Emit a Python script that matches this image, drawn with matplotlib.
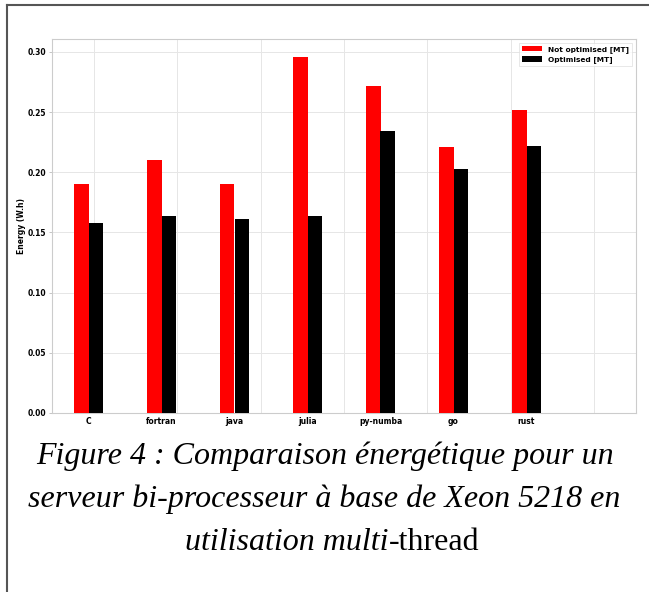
import matplotlib
matplotlib.use("Agg")
import matplotlib.pyplot as plt
from matplotlib.lines import Line2D
import numpy as np

categories = ["C", "fortran", "java", "julia", "py-numba", "go", "rust"]
not_optimised = [0.190, 0.210, 0.190, 0.296, 0.272, 0.221, 0.252]
optimised = [0.158, 0.164, 0.161, 0.164, 0.234, 0.203, 0.222]
yticks = [0.00, 0.05, 0.10, 0.15, 0.20, 0.25, 0.30]

W, H = 649, 592
fig = plt.figure(figsize=(W / 100, H / 100), dpi=100)
fig.patch.set_facecolor("white")

ax = fig.add_axes([52 / W, 1 - 413 / H, (636 - 52) / W, (413 - 39) / H])
x = np.arange(len(categories))
bw = 0.2
ax.bar(x - bw / 2, not_optimised, bw, color="#ff0000", label="Not optimised [MT]", zorder=3)
ax.bar(x + bw / 2, optimised, bw, color="#000000", label="Optimised [MT]", zorder=3)

ax.set_xlim(-0.5, 7.5)
ax.set_ylim(0, max(not_optimised) * 1.05)
ax.set_xticks(x)
ax.set_xticklabels(categories, fontsize=5.5, fontweight="bold")
ax.set_yticks(yticks)
ax.set_yticklabels([f"{v:.2f}" for v in yticks], fontsize=5.5, fontweight="bold")
ax.tick_params(axis="x", length=0, pad=3)
ax.tick_params(axis="y", length=2.5, width=0.6, color="#bbbbbb", pad=2)
ax.set_ylabel("Energy (W.h)", fontsize=5.5, fontweight="bold", labelpad=1)

# grid
for v in yticks:
    ax.axhline(v, color="#e6e6e6", lw=0.7, zorder=0)
for k in range(7):
    ax.axvline(-0.5 + (k + 0.5) * 8 / 7, color="#e6e6e6", lw=0.7, zorder=0)
for s in ax.spines.values():
    s.set_color("#cccccc")
    s.set_linewidth(0.8)

leg = ax.legend(loc="upper right", prop={"size": 5.3, "weight": "bold"},
                frameon=True, fancybox=False, edgecolor="#dddddd",
                handlelength=2.8, handleheight=0.7, borderaxespad=0.5)
leg.get_frame().set_linewidth(0.6)

# frame lines
fig.add_artist(Line2D([7 / W, 7 / W], [0, 1 - 5 / H], color="#555555", lw=1.5))
fig.add_artist(Line2D([7 / W, 1], [1 - 5 / H, 1 - 5 / H], color="#555555", lw=1.5))

# caption
cap_fs = 23
fam = ["Liberation Serif", "DejaVu Serif"]
fig.text(0.5, 1 - 456 / H, "Figure 4 : Comparaison énergétique pour un",
         ha="center", va="center", fontsize=cap_fs, family=fam, style="italic")
fig.text(0.5, 1 - 499 / H, "serveur bi-processeur à base de Xeon 5218 en",
         ha="center", va="center", fontsize=cap_fs, family=fam, style="italic")
renderer = fig.canvas.get_renderer()
t1 = fig.text(0, 1 - 542 / H, "utilisation multi", ha="left", va="center",
              fontsize=cap_fs, family=fam, style="italic")
t2 = fig.text(0, 1 - 542 / H, "-thread", ha="left", va="center",
              fontsize=cap_fs, family=fam)
w1 = t1.get_window_extent(renderer).width
w2 = t2.get_window_extent(renderer).width
x0 = (W - (w1 + w2)) / 2 + 8
t1.set_x(x0 / W)
t2.set_x((x0 + w1) / W)

fig.savefig("out.png", dpi=100, facecolor="white")
